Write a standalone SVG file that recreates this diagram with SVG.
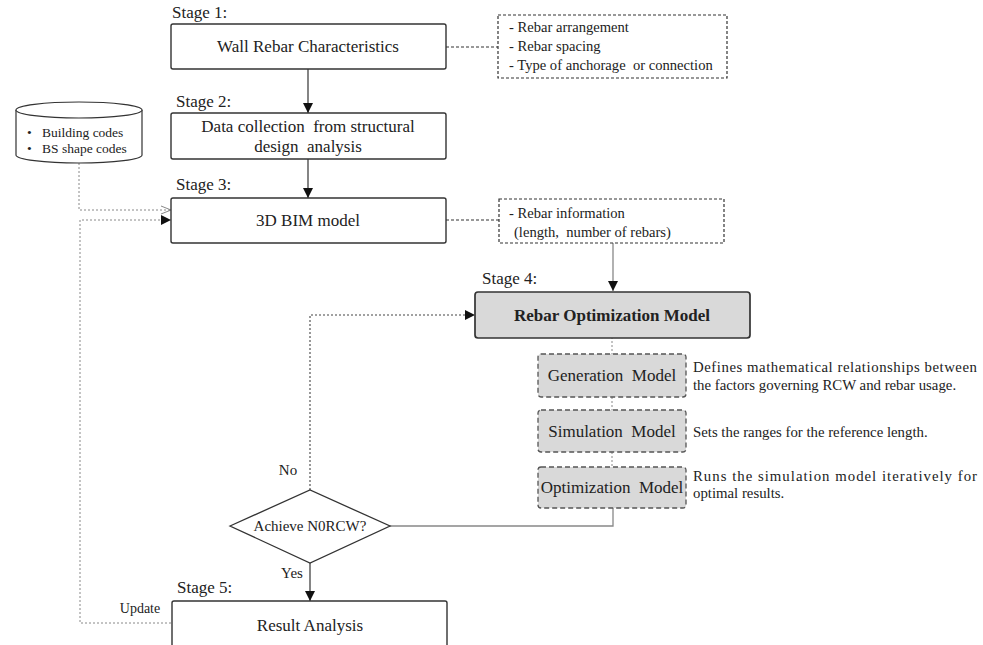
<svg xmlns="http://www.w3.org/2000/svg" width="983" height="645" viewBox="0 0 983 645" font-family="'Liberation Serif', 'DejaVu Serif', serif">
<defs>
<style>
text{font-family:'Liberation Serif','DejaVu Serif',serif;fill:#222}
.main{fill:#fff;stroke:#333;stroke-width:1.4}
.note{fill:#fff;stroke:#333;stroke-width:1.2;stroke-dasharray:3,2}
.sub{fill:#d9d9d9;stroke:#555;stroke-width:1.3;stroke-dasharray:5,3}
.lbl{font-size:17px;text-anchor:middle}
.stage{font-size:17px}
.ntxt{font-size:14.6px}
.desc{font-size:14.8px}
.solid{fill:none;stroke:#333;stroke-width:1.2}
.gsolid{fill:none;stroke:#888;stroke-width:1.3}
.dash{fill:none;stroke:#333;stroke-width:1.1;stroke-dasharray:3,2}
.dot{fill:none;stroke:#888;stroke-width:1;stroke-dasharray:2,2}
.ddot{fill:none;stroke:#444;stroke-width:1.1;stroke-dasharray:2,2}
</style>
<marker id="ah" viewBox="0 0 10 10" refX="10" refY="5" markerWidth="10" markerHeight="10" markerUnits="userSpaceOnUse" orient="auto">
<path d="M0,0 L10,5 L0,10 z" fill="#111"/>
</marker>
<marker id="oah" viewBox="0 0 10 10" refX="10" refY="5" markerWidth="10" markerHeight="10" markerUnits="userSpaceOnUse" orient="auto">
<path d="M0,1 L10,5 L0,9" fill="none" stroke="#888" stroke-width="1"/>
</marker>
</defs>

<g id="connectors">
<line class="solid" x1="308" y1="69" x2="308" y2="113" marker-end="url(#ah)"/>
<line class="solid" x1="308" y1="159" x2="308" y2="198" marker-end="url(#ah)"/>
<line class="dash" x1="446" y1="47" x2="498" y2="47"/>
<line class="dash" x1="446" y1="220" x2="499" y2="220"/>
<line class="gsolid" x1="613" y1="243" x2="613" y2="291" marker-end="url(#ah)"/>
<polyline class="dot" points="79,163 79,210 171,210" marker-end="url(#oah)"/>
<polyline class="dot" points="171,623 80,623 80,220 171,220" marker-end="url(#ah)"/>
<line class="dot" x1="612" y1="337" x2="612" y2="354"/>
<line class="dot" x1="612" y1="397" x2="612" y2="410"/>
<line class="dot" x1="612" y1="452" x2="612" y2="467"/>
<polyline class="gsolid" points="613,508 613,526 347,526" marker-end="url(#ah)"/>
<polyline class="ddot" points="310,490 310,315 475,315" marker-end="url(#ah)"/>
<line class="solid" x1="310" y1="563" x2="310" y2="601" marker-end="url(#ah)"/>
<text x="288" y="475" text-anchor="middle" font-size="15">No</text>
<text x="292" y="578" text-anchor="middle" font-size="15">Yes</text>
<text x="140" y="613" text-anchor="middle" font-size="14">Update</text>
</g>

<g id="stage1">
<text class="stage" x="172" y="18">Stage 1:</text>
<rect class="main" x="171" y="24" width="275" height="45" rx="2"/>
<text class="lbl" x="308" y="52">Wall Rebar Characteristics</text>
</g>

<g id="note1">
<rect class="note" x="498" y="15" width="229" height="63"/>
<text class="ntxt" x="509" y="32">- Rebar arrangement</text>
<text class="ntxt" x="509" y="51">- Rebar spacing</text>
<text class="ntxt" x="509" y="70" xml:space="preserve">- Type of anchorage  or connection</text>
</g>

<g id="stage2">
<text class="stage" x="176" y="107">Stage 2:</text>
<rect class="main" x="171" y="113" width="275" height="46" rx="2"/>
<text class="lbl" x="308" y="132" xml:space="preserve">Data collection  from structural</text>
<text class="lbl" x="308" y="152" xml:space="preserve">design  analysis</text>
</g>

<g id="codes">
<path d="M16,110 L16,155 A63,8 0 0 0 142,155 L142,110" fill="#fff" stroke="#333" stroke-width="1.2"/>
<ellipse cx="79" cy="110" rx="63" ry="8" fill="#fff" stroke="#333" stroke-width="1.2"/>
<text x="27" y="137" font-size="13.5">•</text>
<text x="42" y="137" font-size="13.5">Building codes</text>
<text x="27" y="153" font-size="13.5">•</text>
<text x="42" y="153" font-size="13.5">BS shape codes</text>
</g>

<g id="stage3">
<text class="stage" x="176" y="190">Stage 3:</text>
<rect class="main" x="171" y="198" width="275" height="45" rx="2"/>
<text class="lbl" x="308" y="226">3D BIM model</text>
</g>

<g id="note2">
<rect class="note" x="499" y="199" width="225" height="44"/>
<text class="ntxt" x="509" y="218">- Rebar information</text>
<text class="ntxt" x="514" y="237" xml:space="preserve">(length,  number of rebars)</text>
</g>

<g id="stage4">
<text class="stage" x="482" y="284">Stage 4:</text>
<rect x="475" y="292" width="275" height="46" rx="3" fill="#d9d9d9" stroke="#333" stroke-width="1.7"/>
<text class="lbl" x="612" y="321" font-weight="bold">Rebar Optimization Model</text>
</g>

<g id="generation">
<rect class="sub" x="538" y="354" width="148" height="43" rx="3"/>
<text class="lbl" x="612" y="381" xml:space="preserve">Generation  Model</text>
<text class="desc" x="693" y="372" textLength="284" lengthAdjust="spacing">Defines mathematical relationships between</text>
<text class="desc" x="693" y="390">the factors governing RCW and rebar usage.</text>
</g>

<g id="simulation">
<rect class="sub" x="538" y="410" width="148" height="42" rx="3"/>
<text class="lbl" x="612" y="437" xml:space="preserve">Simulation  Model</text>
<text class="desc" x="693" y="437">Sets the ranges for the reference length.</text>
</g>

<g id="optimization">
<rect class="sub" x="538" y="467" width="148" height="41" rx="3"/>
<text class="lbl" x="612" y="493" xml:space="preserve">Optimization  Model</text>
<text class="desc" x="693" y="481" textLength="284" lengthAdjust="spacing">Runs the simulation model iteratively for</text>
<text class="desc" x="693" y="498">optimal results.</text>
</g>

<g id="decision">
<polygon points="230,526 310,490 390,526 310,563" fill="#fff" stroke="#333" stroke-width="1.3"/>
<text x="310" y="531" text-anchor="middle" font-size="15">Achieve N0RCW?</text>
</g>

<g id="stage5">
<text class="stage" x="177" y="593">Stage 5:</text>
<rect class="main" x="172" y="601" width="275" height="60" rx="2"/>
<text class="lbl" x="310" y="631">Result Analysis</text>
</g>
</svg>
